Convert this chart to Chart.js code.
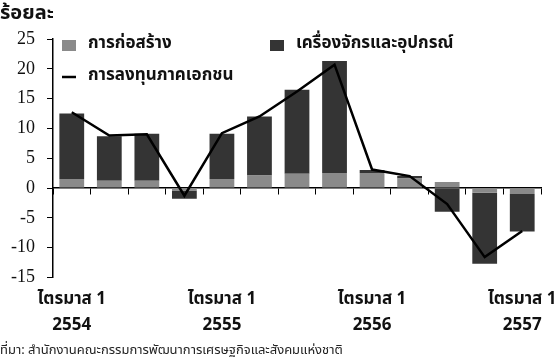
<!DOCTYPE html>
<html>
<head>
<meta charset="utf-8">
<script src="https://cdn.jsdelivr.net/npm/chart.js@4.4.1/dist/chart.umd.min.js"></script>
<style>
  html, body { margin: 0; padding: 0; background: #fff; }
  #wrap { width: 560px; height: 364px; }
</style>
</head>
<body>
<div id="wrap"><canvas id="investChart" width="560" height="364"></canvas></div>
<script>
// ไตรมาส 1/2554 - 1/2557
const quarters = ['1/2554', '2/2554', '3/2554', '4/2554', '1/2555', '2/2555', '3/2555', '4/2555',
                  '1/2556', '2/2556', '3/2556', '4/2556', '1/2557'];
const tickLabels = [['ไตรมาส 1', '2554'], '', '', '', ['ไตรมาส 1', '2555'], '', '', '',
                    ['ไตรมาส 1', '2556'], '', '', '', ['ไตรมาส 1', '2557']];
const construction = [1.5, 1.2, 1.2, -0.4, 1.5, 2.1, 2.4, 2.5, 2.5, 1.6, 1.0, -0.8, -1.0];
const machinery = [11.0, 7.5, 7.9, -1.4, 7.6, 9.9, 14.1, 18.8, 0.5, 0.4, -4.0, -11.9, -6.3];
const privateInvestment = [12.7, 8.8, 9.0, -1.3, 9.2, 12.0, 16.2, 20.7, 3.1, 2.0, -2.7, -11.6, -7.2];

const thaiFont = '"Noto Sans Thai", "Noto Sans", "DejaVu Sans", sans-serif';

const insideLegend = {
    id: 'insideLegend',
    afterDatasetsDraw(chart) {
        const ctx = chart.ctx;
        const area = chart.chartArea;
        const spots = [
            { ds: 0, x: area.left + 9, y: area.top + 6 },
            { ds: 1, x: area.left + 217, y: area.top + 6 },
            { ds: 2, x: area.left + 9, y: area.top + 38 }
        ];
        ctx.save();
        ctx.font = 'bold 17px ' + thaiFont;
        ctx.textBaseline = 'middle';
        spots.forEach(s => {
            const ds = chart.data.datasets[s.ds];
            if (ds.type === 'line') {
                ctx.strokeStyle = ds.borderColor;
                ctx.lineWidth = 2.5;
                ctx.beginPath();
                ctx.moveTo(s.x, s.y);
                ctx.lineTo(s.x + 14, s.y);
                ctx.stroke();
            } else {
                ctx.fillStyle = ds.backgroundColor;
                ctx.fillRect(s.x, s.y - 5, 14, 11);
            }
            ctx.fillStyle = '#111';
            ctx.fillText(ds.label, s.x + 26, s.y);
        });
        ctx.restore();
    }
};

const ctx = document.getElementById('investChart').getContext('2d');
new Chart(ctx, {
    type: 'bar',
    data: {
        labels: quarters,
        datasets: [
            { label: 'การก่อสร้าง', data: construction, backgroundColor: '#8a8a8a', stack: 'parts', order: 1 },
            { label: 'เครื่องจักรและอุปกรณ์', data: machinery, backgroundColor: '#343434', stack: 'parts', order: 1 },
            { type: 'line', label: 'การลงทุนภาคเอกชน', data: privateInvestment, borderColor: '#000',
              borderWidth: 2.5, pointRadius: 0, tension: 0, stack: 'total', order: 0 }
        ]
    },
    options: {
        responsive: false,
        animation: false,
        devicePixelRatio: 1,
        datasets: {
            bar: { barPercentage: 0.66, categoryPercentage: 1 }
        },
        layout: { padding: { left: 0, right: 19, top: 0, bottom: 0 } },
        scales: {
            x: {
                stacked: true,
                position: { y: 0 },
                offset: true,
                grid: { display: true, drawOnChartArea: false, drawTicks: true, tickLength: 6, color: '#000', offset: true },
                border: { display: true, color: '#000', width: 1.5 },
                ticks: { display: false }
            },
            x2: {
                type: 'category',
                position: 'bottom',
                offset: true,
                grid: { display: false },
                border: { display: false },
                ticks: {
                    autoSkip: false,
                    maxRotation: 0,
                    padding: 2,
                    color: '#111',
                    font: { family: thaiFont, size: 17, weight: 'bold', lineHeight: 1.55 },
                    callback: (v, i) => tickLabels[i]
                },
                afterFit: s => { s.height = 66; }
            },
            y: {
                stacked: true,
                min: -15,
                max: 25,
                ticks: { stepSize: 5, padding: 12, color: '#111', font: { family: '"Liberation Serif", "Times New Roman", serif', size: 18 } },
                grid: { display: true, drawOnChartArea: false, drawTicks: true, tickLength: 6, color: '#000' },
                border: { display: true, color: '#000', width: 1.5 },
                afterFit: s => { s.width = 53; }
            }
        },
        plugins: {
            legend: { display: false },
            tooltip: { enabled: false },
            title: {
                display: true,
                text: 'ร้อยละ',
                align: 'start',
                color: '#111',
                font: { family: thaiFont, size: 20, weight: 'bold' },
                padding: { top: 3, bottom: 12 }
            },
            subtitle: {
                display: true,
                position: 'bottom',
                text: 'ที่มา: สำนักงานคณะกรรมการพัฒนาการเศรษฐกิจและสังคมแห่งชาติ',
                align: 'start',
                color: '#222',
                font: { family: thaiFont, size: 13 },
                padding: { top: 0, bottom: 5 }
            }
        }
    },
    plugins: [insideLegend]
});
</script>
</body>
</html>
